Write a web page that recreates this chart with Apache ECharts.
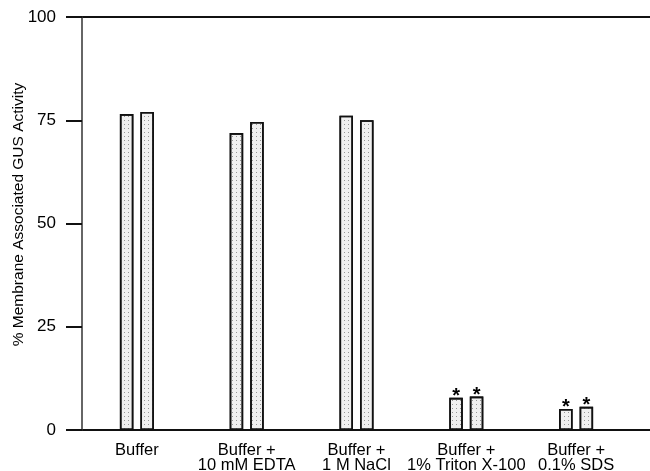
<!DOCTYPE html>
<html><head><meta charset="utf-8">
<script src="https://cdn.jsdelivr.net/npm/echarts@6/dist/echarts.min.js"></script>
<style>html,body{margin:0;padding:0;background:#fff}#c{width:650px;height:471px}</style>
</head><body><div id="c"></div>
<script>
const categories = ['Buffer', 'Buffer +\n10 mM EDTA', 'Buffer +\n1 M NaCl', 'Buffer +\n1% Triton X-100', 'Buffer +\n0.1% SDS'];
const seriesA = [76.5, 71.9, 76.1, 7.8, 5.1];
const seriesB = [77.0, 74.6, 75.0, 8.1, 5.6];
const significant = [false, false, false, true, true];
const yTicks = [0, 25, 50, 75, 100];

const FONT = 'Liberation Sans, Arial, sans-serif';
const decal = {symbol: 'rect', symbolSize: 1, color: 'rgba(60,60,60,0.5)', dashArrayX: [1, 3], dashArrayY: [1, 3], rotation: 0};
function barSeries(data) {
  return {
    type: 'bar', data: data, barWidth: 13.5, barGap: '52%',
    itemStyle: {color: '#f0f0f0', borderColor: '#111', borderWidth: 1.6, decal: decal},
    label: {show: true, position: 'top', distance: -9, color: '#000', fontSize: 20, fontWeight: 'bold', fontFamily: FONT,
      formatter: p => significant[p.dataIndex] ? '*' : ''}
  };
}
const chart = echarts.init(document.getElementById('c'), null, {renderer: 'canvas'});
chart.setOption({
  animation: false,
  grid: {left: 82, right: 19, top: 17, bottom: 41, containLabel: false, outerBoundsMode: 'none'},
  xAxis: {
    type: 'category', data: categories,
    axisLine: {show: false},
    axisTick: {show: false},
    axisLabel: {color: '#000', fontSize: 16.5, fontFamily: FONT, margin: 13, lineHeight: 15, interval: 0}
  },
  yAxis: {
    type: 'value', min: yTicks[0], max: yTicks[yTicks.length - 1], interval: 25,
    name: '% Membrane Associated GUS Activity', nameLocation: 'middle', nameGap: 55, nameMoveOverlap: false,
    nameTextStyle: {color: '#000', fontSize: 15.5, fontFamily: FONT, padding: [0, 0, 0, 18]},
    axisLine: {show: true, lineStyle: {color: '#333', width: 1.5}},
    axisTick: {show: true, inside: false, length: 16, lineStyle: {color: '#111', width: 2}},
    axisLabel: {color: '#000', fontSize: 17, fontFamily: FONT, margin: 26},
    splitLine: {show: false}
  },
  graphic: [
    {type: 'rect', shape: {x: 81, y: 16, width: 569, height: 2}, style: {fill: '#111'}},
    {type: 'rect', shape: {x: 81, y: 429, width: 569, height: 2}, style: {fill: '#111'}}
  ],
  series: [barSeries(seriesA), barSeries(seriesB)]
});
</script></body></html>
